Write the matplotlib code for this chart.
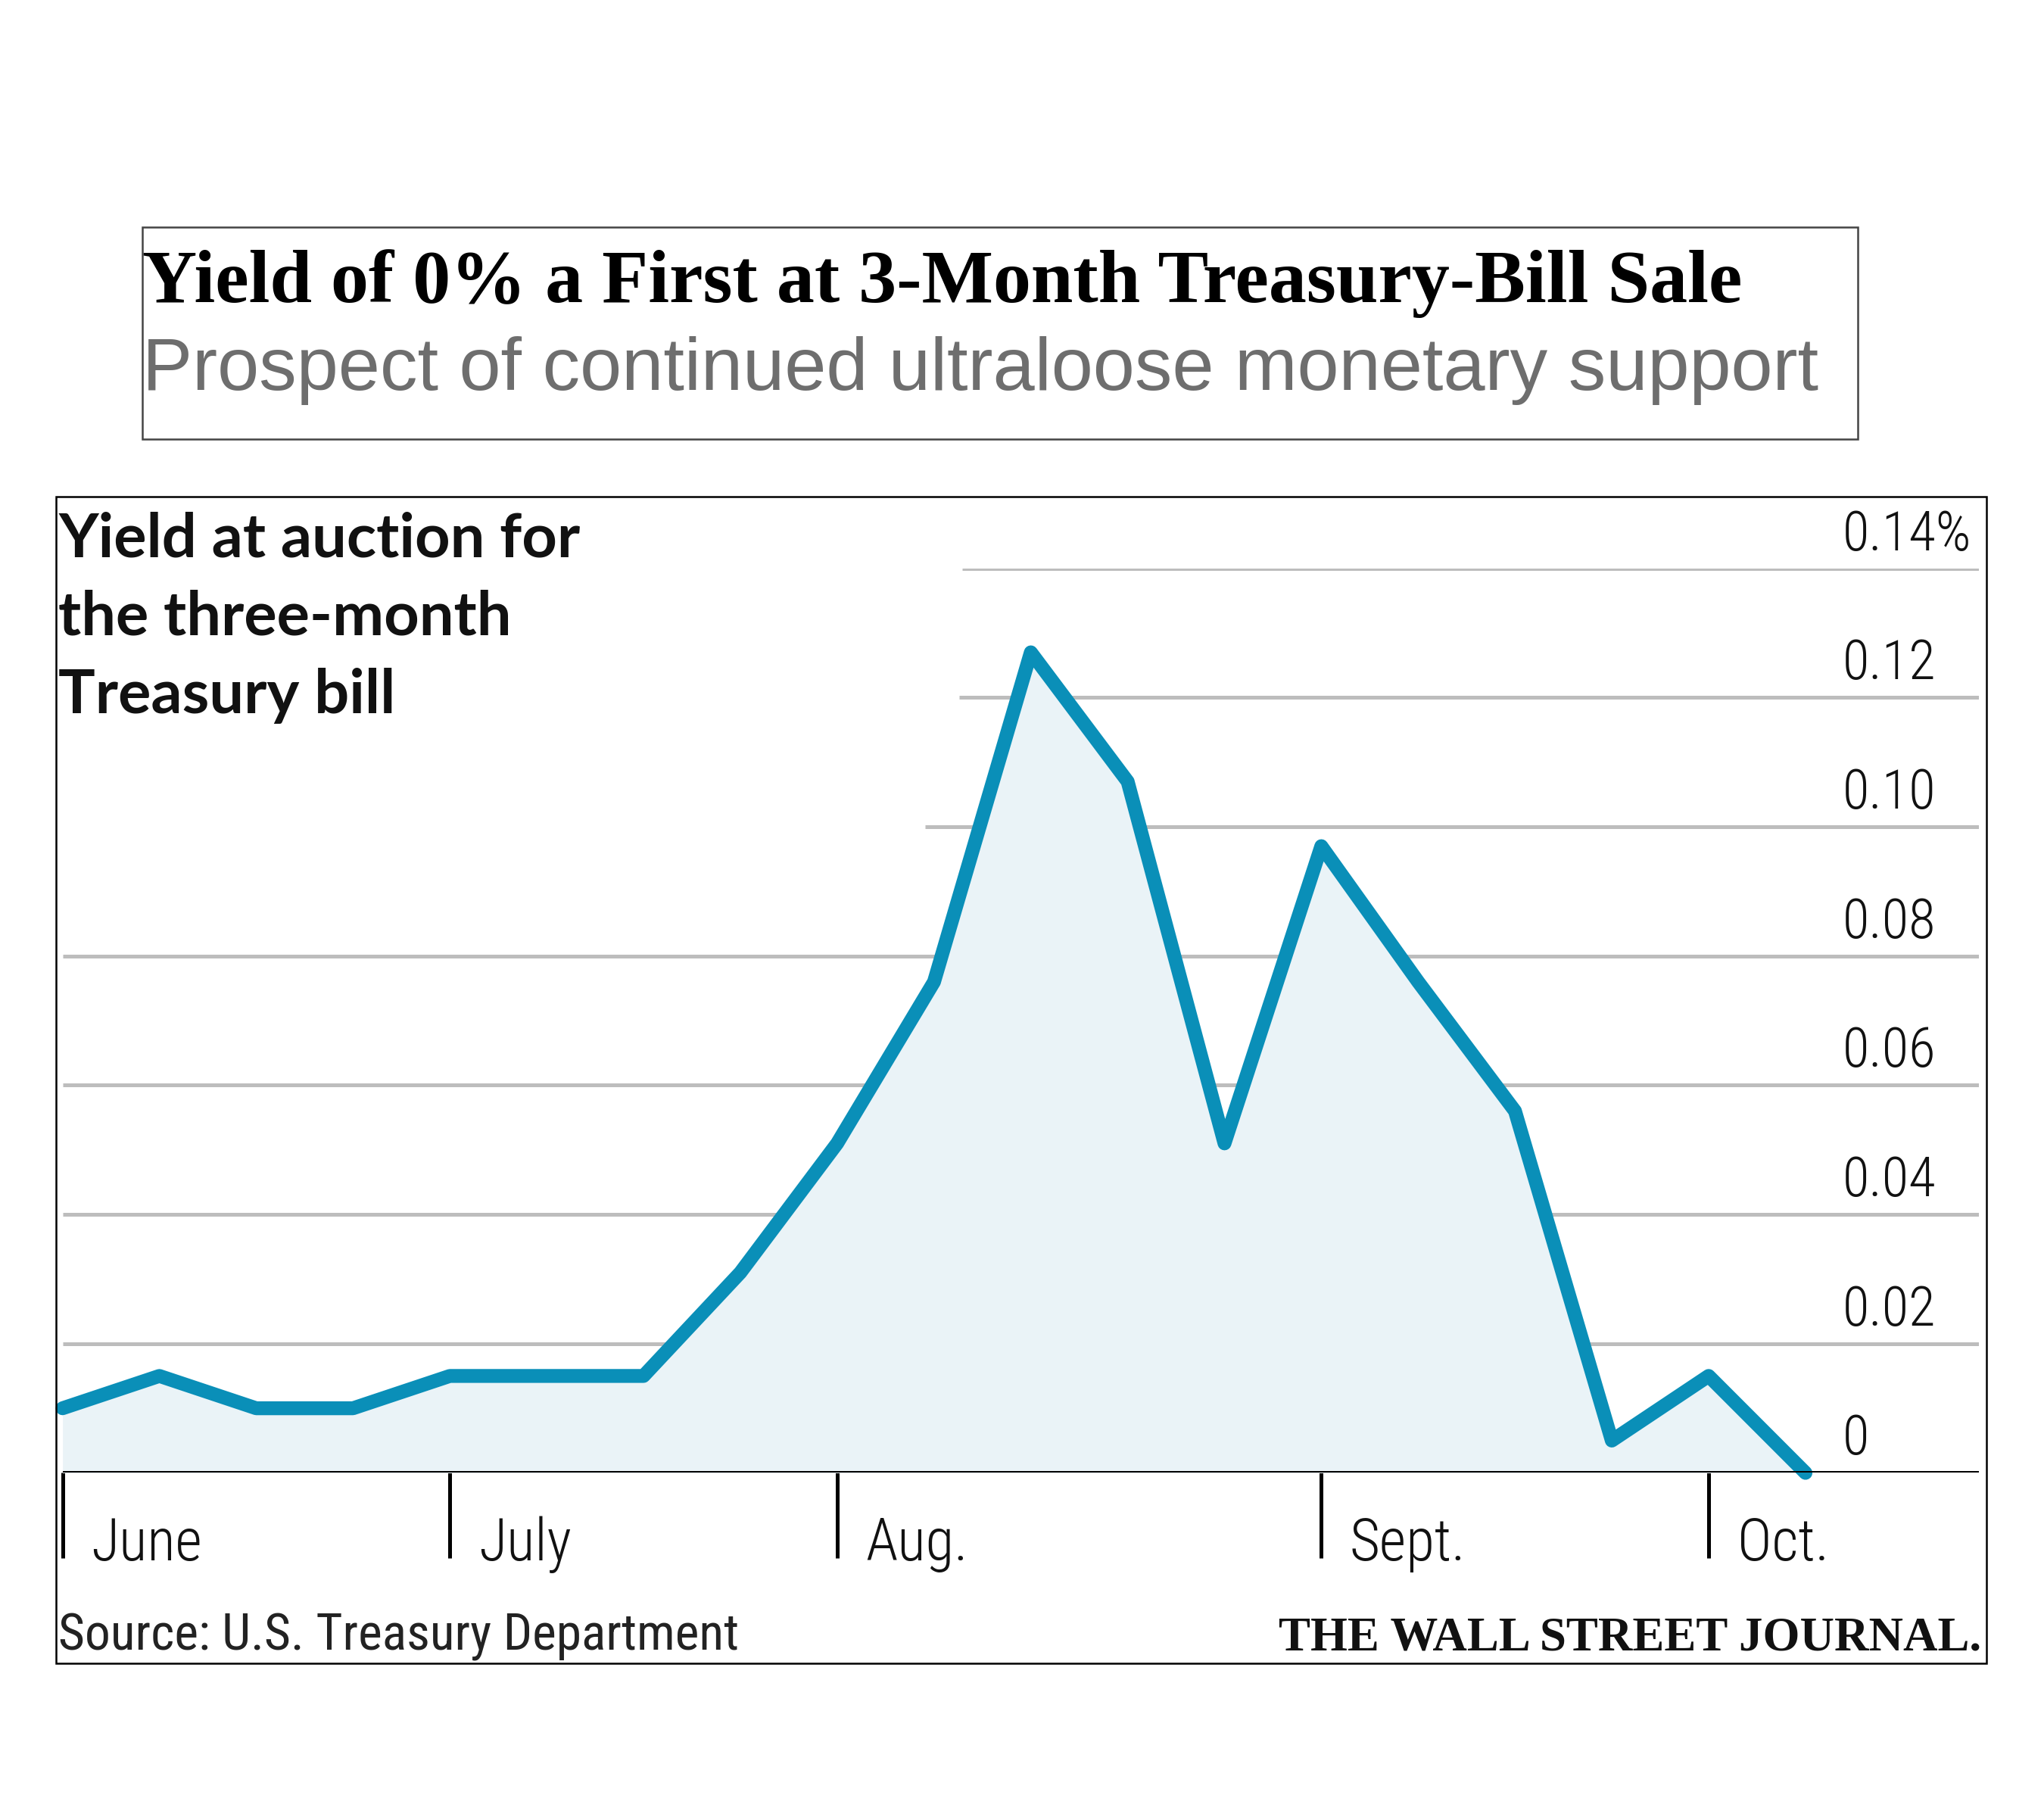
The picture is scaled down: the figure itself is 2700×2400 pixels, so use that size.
import matplotlib.pyplot as plt
import matplotlib.transforms as mtransforms
from matplotlib.patches import Rectangle

# weekly 3-month bill auction yields, percent
weeks = list(range(19))
yields = [0.010, 0.015, 0.010, 0.010, 0.015, 0.015, 0.015, 0.031, 0.051, 0.076,
          0.127, 0.107, 0.051, 0.097, 0.076, 0.056, 0.005, 0.015, 0.000]

month_pos = [0, 4, 8, 13, 17]
month_labels = ["June", "July", "Aug.", "Sept.", "Oct."]

y_ticks = [0, 0.02, 0.04, 0.06, 0.08, 0.10, 0.12, 0.14]
y_labels = ["0", "0.02", "0.04", "0.06", "0.08", "0.10", "0.12", "0.14%"]
# where each gridline starts (upper ones stop short of the label block)
grid_start = [0, 0, 0, 0, 0, 8.91, 9.26, 9.29]

LINE = "#0a8fb8"
FILL = "#eaf3f7"
GRID = "#bdbdbd"
SANS = ["Roboto Condensed", "Roboto", "DejaVu Sans"]

fig = plt.figure(figsize=(9, 8), dpi=300)

# title box
fig.patches.append(Rectangle((0.0695, 0.7582), 0.8393, 0.117, transform=fig.transFigure,
                             fill=False, edgecolor="#444444", linewidth=0.6))
fig.text(0.0695, 0.8336, "Yield of 0% a First at 3-Month Treasury-Bill Sale",
         family="Liberation Serif", weight="bold", fontsize=24, color="black",
         va="baseline", ha="left")
fig.text(0.0695, 0.7855, "Prospect of continued ultraloose monetary support",
         family="Liberation Sans", fontsize=23.8, color="#6e6e6e",
         va="baseline", ha="left")

# chart box
fig.patches.append(Rectangle((0.0274, 0.0846), 0.9445, 0.6421, transform=fig.transFigure,
                             fill=False, edgecolor="black", linewidth=0.6))

ax = fig.add_axes([0.0306, 0.1894, 0.9375, 0.4978])
ax.set_xlim(0, 19.79)
ax.set_ylim(0, 0.14)
for s in ax.spines.values():
    s.set_visible(False)
ax.set_yticks([])
ax.set_xticks(month_pos)
ax.set_xticklabels([])
ax.tick_params(axis="x", direction="out", length=27, width=1.2, color="black")

for yv, x0 in zip(y_ticks[1:], grid_start[1:]):
    ax.hlines(yv, x0, 19.79, color=GRID, linewidth=1.2, zorder=1)
ax.axhline(0, color="black", linewidth=1.2, zorder=4)

ax.fill_between(weeks, yields, 0, color=FILL, zorder=2, linewidth=0)
ax.plot(weeks, yields, color=LINE, linewidth=4.4, solid_joinstyle="round",
        solid_capstyle="round", zorder=3, clip_on=False)

# value labels sit just above their gridlines
lab_tr = mtransforms.offset_copy(ax.transData, fig=fig, x=0, y=5.8, units="points")
for yv, lab in zip(y_ticks, y_labels):
    ax.text(18.38, yv, lab, transform=lab_tr, family=SANS, weight="light",
            fontsize=17.5, color="#111111", ha="left", va="baseline")

# month labels to the right of each tick
mon_tr = mtransforms.offset_copy(ax.transData, fig=fig, x=9, y=-27.7, units="points")
for xv, lab in zip(month_pos, month_labels):
    ax.text(xv, 0, lab, transform=mon_tr, family=SANS, weight="light",
            fontsize=18.5, color="#111111", ha="left", va="baseline")

# chart label
for i, line in enumerate(["Yield at auction for", "the three-month", "Treasury bill"]):
    fig.text(0.0287, 0.6937 - i * 0.043, line, family=["Lato", "DejaVu Sans"],
             weight="bold", fontsize=19.5, color="#111111", va="baseline", ha="left")

fig.text(0.0287, 0.0918, "Source: U.S. Treasury Department", family=SANS,
         fontsize=16.2, color="#222222", va="baseline", ha="left")
fig.text(0.9694, 0.0918, "THE WALL STREET JOURNAL.", family="Liberation Serif",
         weight="bold", fontsize=15.1, color="#111111", va="baseline", ha="right")

fig.savefig("out.png", dpi=300)
